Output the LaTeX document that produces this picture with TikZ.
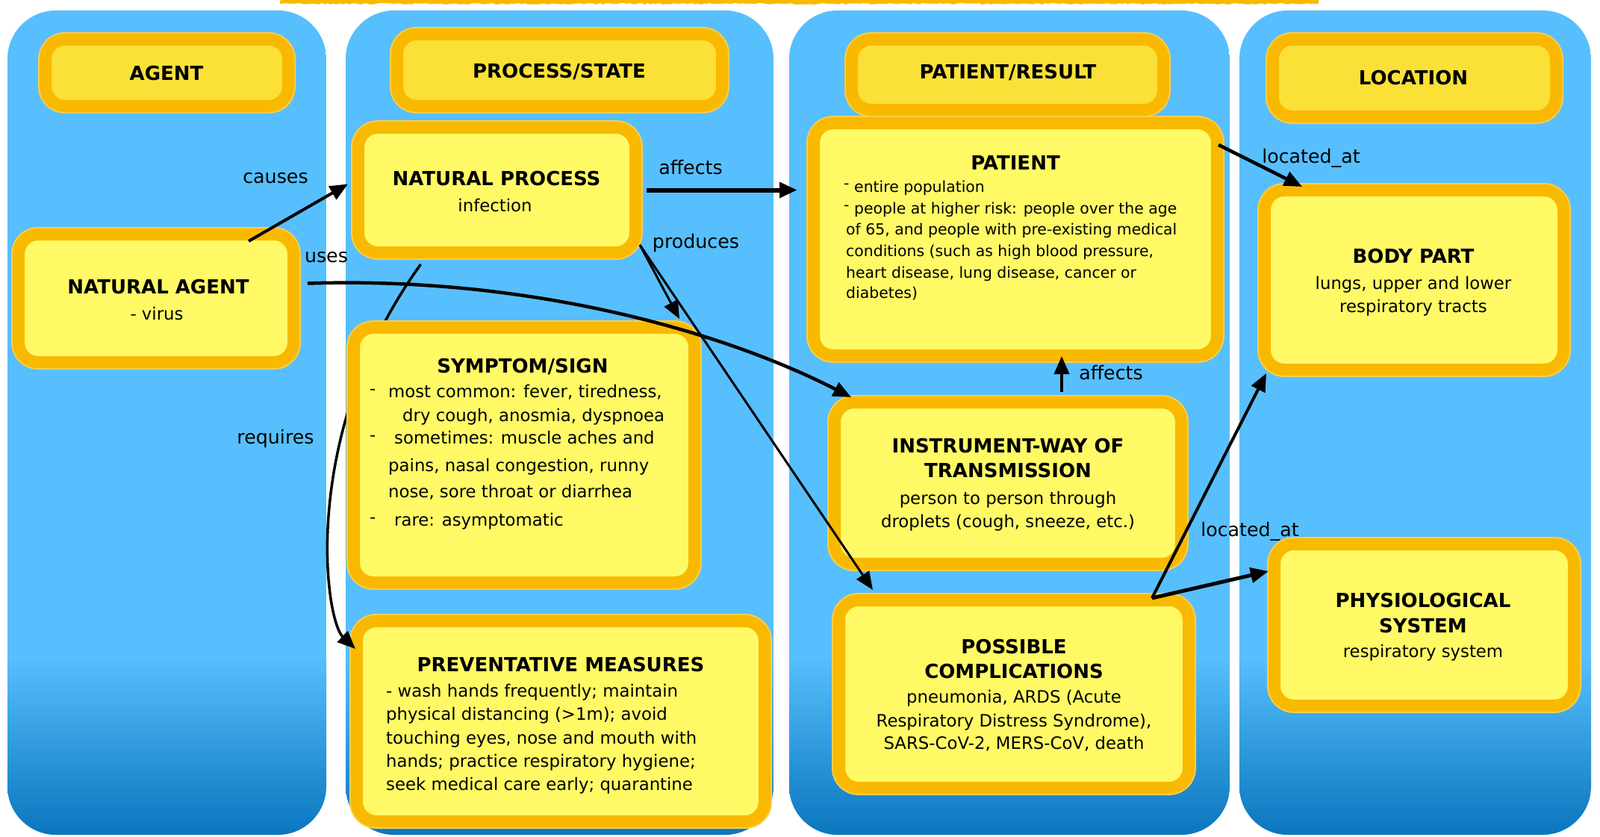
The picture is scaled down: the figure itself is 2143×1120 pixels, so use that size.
\documentclass[tikz,border=0pt]{standalone}
\usepackage{fontspec}
\setmainfont{DejaVu Sans}
\usetikzlibrary{arrows.meta,calc,decorations.pathmorphing}
\definecolor{colblue}{RGB}{87,191,253}
\definecolor{coldark}{RGB}{10,118,190}
\definecolor{boxyellow}{RGB}{255,249,102}
\definecolor{headyellow}{RGB}{251,224,56}
\definecolor{boxorange}{RGB}{249,185,0}
\newcommand{\fttl}{\fontsize{26}{30}\selectfont\bfseries}
\newcommand{\fbody}{\fontsize{22.8}{28}\selectfont}
\newcommand{\fpat}{\fontsize{20.4}{24}\selectfont}
\newcommand{\flab}{\fontsize{25.3}{28}\selectfont}
\tikzset{
  rbox/.style={rounded corners=26pt, fill=boxyellow, draw=boxorange, line width=16pt, inner sep=0pt,
    preaction={draw=boxorange!70!white, line width=20pt}},
  hbox/.style={rbox, fill=headyellow},
  ttl/.style={font=\fttl, anchor=mid, inner sep=0pt, yshift=-6.5pt},
  txt/.style={font=\fbody, anchor=mid, inner sep=0pt, yshift=-6.5pt},
  txtl/.style={txt, anchor=mid west},
  ptxt/.style={font=\fpat, anchor=mid west, inner sep=0pt, yshift=-6pt},
  lab/.style={font=\flab, anchor=mid, inner sep=0pt, yshift=-6.5pt},
  conn/.style={-{Triangle[length=24pt,width=20pt]}, line width=4pt, black},
}
\begin{document}
\begin{tikzpicture}[x=1pt,y=-1pt]
\useasboundingbox (0,0) rectangle (2143,1120);
\fill[white] (0,0) rectangle (2143,1120);
% columns
\foreach \xa/\xb in {10/437,463/1036,1057/1647,1660/2131}{
  \begin{scope}
    \clip[rounded corners=65pt] (\xa,14) rectangle (\xb,1118);
    \fill[colblue] (\xa,14) rectangle (\xb,1118);
    \shade[top color=colblue,bottom color=coldark] (\xa,880) rectangle (\xb,1118);
  \end{scope}
}
% top strip
\fill[boxorange, decorate, decoration={random steps,segment length=4pt,amplitude=1pt}] (375,-4) rectangle (1766,5);
% headers
\node[hbox, minimum width=325pt, minimum height=89pt] (hAgent) at (223.5,97.5) {};
\node[ttl] (thAgent) at (223,98) {AGENT};
\node[hbox, minimum width=435pt, minimum height=96pt] (hProc) at (749.5,94) {};
\node[ttl] (thProc) at (749,95) {PROCESS/STATE};
\node[hbox, minimum width=417pt, minimum height=94pt] (hPat) at (1349.5,100) {};
\node[ttl] (thPat) at (1350,96) {PATIENT/RESULT};
\node[hbox, minimum width=379pt, minimum height=103pt] (hLoc) at (1894.5,104.5) {};
\node[ttl] (thLoc) at (1893,104) {LOCATION};
% boxes
\node[rbox, minimum width=371pt, minimum height=167pt] (np) at (665.5,254.5) {};
\node[ttl] (tnp1) at (665,239) {NATURAL PROCESS};
\node[txt] (tnp2) at (663,274) {infection};
\node[rbox, minimum width=368pt, minimum height=171pt] (na) at (209,399.5) {};
\node[ttl] (tna1) at (212,384) {NATURAL AGENT};
\node[txt] (tna2) at (210,419) {- virus};
\node[rbox, minimum width=546pt, minimum height=268pt] (prev) at (751,966) {};
\node[ttl] (tpr0) at (751,890) {PREVENTATIVE MEASURES};
\node[txtl] (tpr1) at (517,924) {- wash hands frequently; maintain};
\node[txtl] (tpr2) at (517,955) {physical distancing (>1m); avoid};
\node[txtl] (tpr3) at (517,987) {touching eyes, nose and mouth with};
\node[txtl] (tpr4) at (517,1018) {hands; practice respiratory hygiene;};
\node[txtl] (tpr5) at (517,1049) {seek medical care early; quarantine};
\node[rbox, minimum width=540pt, minimum height=311pt] (pat) at (1360,320.5) {};
\node[ttl] (tpa0) at (1360,218) {PATIENT};
\node[ptxt] (tpd1) at (1130,244) {-};
\node[ptxt] (tpa1) at (1144,249) {entire population};
\node[ptxt] (tpd2) at (1130,273) {-};
\node[ptxt] (tpa2) at (1144,278) {people at higher risk: people over the age};
\node[ptxt] (tpa3) at (1133,306) {of 65, and people with pre-existing medical};
\node[ptxt] (tpa4) at (1133,335) {conditions (such as high blood pressure,};
\node[ptxt] (tpa5) at (1133,364) {heart disease, lung disease, cancer or};
\node[ptxt] (tpa6) at (1133,391) {diabetes)};
\node[rbox, minimum width=464pt, minimum height=216pt] (inst) at (1350,647) {};
\node[ttl] (tin1) at (1350,597) {INSTRUMENT-WAY OF};
\node[ttl] (tin2) at (1350,630) {TRANSMISSION};
\node[txt] (tin3) at (1350,666) {person to person through};
\node[txt] (tin4) at (1350,697) {droplets (cough, sneeze, etc.)};
\node[rbox, minimum width=468pt, minimum height=251pt] (comp) at (1358,929.5) {};
\node[ttl] (tco1) at (1358,866) {POSSIBLE};
\node[ttl] (tco2) at (1358,899) {COMPLICATIONS};
\node[txt] (tco3) at (1358,932) {pneumonia, ARDS (Acute};
\node[txt] (tco4) at (1358,964) {Respiratory Distress Syndrome),};
\node[txt] (tco5) at (1358,994) {SARS-CoV-2, MERS-CoV, death};
\node[rbox, minimum width=400pt, minimum height=240pt] (body) at (1894,375) {};
\node[ttl] (tbo1) at (1893,343) {BODY PART};
\node[txt] (tbo2) at (1893,378) {lungs, upper and lower};
\node[txt] (tbo3) at (1893,409) {respiratory tracts};
\node[rbox, minimum width=401pt, minimum height=216pt] (phys) at (1907.5,837) {};
\node[ttl] (tph1) at (1906,804) {PHYSIOLOGICAL};
\node[ttl] (tph2) at (1906,838) {SYSTEM};
\node[txt] (tph3) at (1906,871) {respiratory system};
% requires (behind symptom box)
\draw[conn, line width=3.5pt] ($(np.south)+(-102,8)$) .. controls (400,580) and (435,830) .. ($(prev.north west)+(6,45)$);
\node[lab] (lreq) at (369,585) {requires};
% symptom box
\node[rbox, minimum width=456pt, minimum height=341pt] (sym) at (702,609.5) {};
\node[ttl] (tsy0) at (700,490) {SYMPTOM/SIGN};
\node[txtl] (tsd1) at (495,519) {-};
\node[txtl] (tsy1) at (520,523) {most common: fever, tiredness,};
\node[txtl] (tsy2) at (539,555) {dry cough, anosmia, dyspnoea};
\node[txtl] (tsd3) at (495,581) {-};
\node[txtl] (tsy3) at (528,585) {sometimes: muscle aches and};
\node[txtl] (tsy4) at (520,622) {pains, nasal congestion, runny};
\node[txtl] (tsy5) at (520,657) {nose, sore throat or diarrhea};
\node[txtl] (tsd6) at (495,691) {-};
\node[txtl] (tsy6) at (528,695) {rare: asymptomatic};
% connectors
\draw[conn] ($(na.north east)+(-68,17)$) -- ($(np.west)+(-6,-8)$);
\node[lab] (lcau) at (369,236) {causes};
\coordinate (affT) at (np.east -| pat.west);
\draw[conn, line width=6pt] ($(np.east)+(7,0)$) -- ($(affT)+(-14,0)$);
\node[lab] (laff) at (925,224) {affects};
\draw[conn, line width=3pt] ($(np.south east)+(-2,-18)$) -- ($(sym.north east)+(-28,-4)$);
\draw[conn, line width=3pt] ($(np.south east)+(-2,-18)$) -- ($(comp.north west)+(53,-6)$);
\node[lab] (lpro) at (932,323) {produces};
\draw[conn, line width=4.5pt] ($(na.east)+(11,-20)$) .. controls (700,370) and (960,440) .. ($(inst.north west)+(30,1)$);
\node[lab] (luse) at (437,342) {uses};
\draw[conn] ($(inst.north)+(72,-6)$) -- ($(pat.south)+(62,-7)$);
\node[lab] (laf2) at (1488,499) {affects};
\draw[conn, line width=4.5pt] ($(pat.north east)+(-6,37)$) -- ($(body.north west)+(58,3)$);
\node[lab] (lloc1) at (1756,209) {located\_at};
\draw[conn] ($(comp.north east)+(-57,5)$) -- ($(body.south west)+(10,-3)$);
\draw[conn, line width=5pt] ($(comp.north east)+(-57,5)$) -- ($(phys.west)+(0,-72)$);
\node[lab] (lloc2) at (1674,709) {located\_at};
\end{tikzpicture}
\end{document}
